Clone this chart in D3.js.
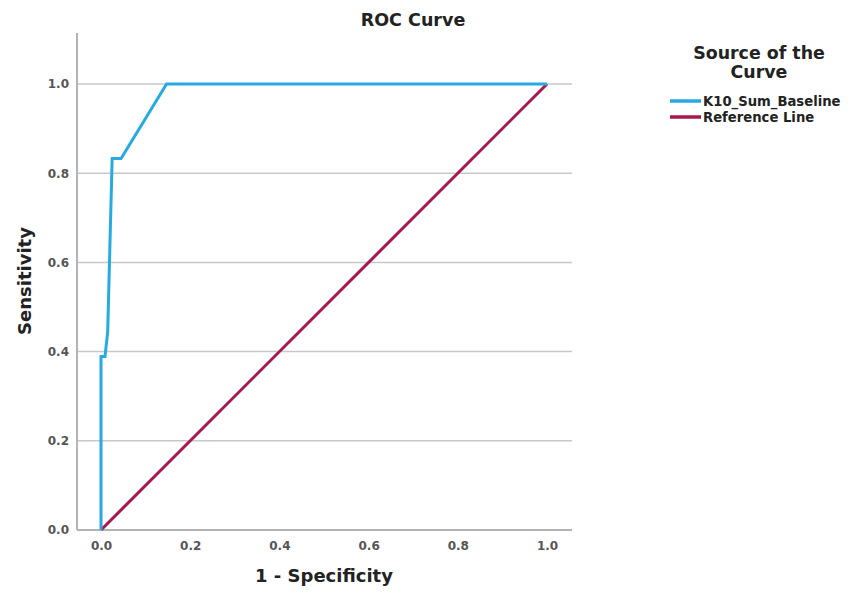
<!DOCTYPE html>
<html><head><meta charset="utf-8">
<script src="https://cdn.jsdelivr.net/npm/d3@7"></script>
<style>body{margin:0;background:#fff}text{font-family:"DejaVu Sans",sans-serif}</style>
</head><body>
<script>
const fpr = [0, 0, 0.009, 0.015, 0.025, 0.045, 0.147, 1];
const tpr = [0, 0.389, 0.389, 0.444, 0.833, 0.833, 1, 1];
const refX = [0, 1];
const refY = [0, 1];
const tickValues = [0, 0.2, 0.4, 0.6, 0.8, 1.0];
const seriesNames = ["K10_Sum_Baseline", "Reference Line"];
const colors = ["#27aae2", "#a8174f"];

const W = 853, H = 593;
const svg = d3.select("body").append("svg").attr("width", W).attr("height", H);
const x = d3.scaleLinear().domain([0, 1]).range([101, 547]);
const y = d3.scaleLinear().domain([0, 1]).range([530, 84]);
const x0 = 77, x1 = 572, yTop = 33;

// gridlines
svg.append("g").selectAll("line").data(tickValues.filter(d => d > 0)).join("line")
  .attr("x1", x0).attr("x2", x1).attr("y1", d => y(d)).attr("y2", d => y(d))
  .attr("stroke", "#c8c8c8").attr("stroke-width", 1.5);

// axes
const yAxis = d3.axisLeft(y).tickValues(tickValues).tickFormat(d3.format(".1f")).tickSize(0).tickPadding(8);
const gy = svg.append("g").attr("transform", `translate(${x0},0)`).call(yAxis);
const xAxis = d3.axisBottom(x).tickValues(tickValues).tickFormat(d3.format(".1f")).tickSize(0).tickPadding(11);
const gx = svg.append("g").attr("transform", `translate(0,530)`).call(xAxis);
[gx, gy].forEach(g => {
  g.select(".domain").remove();
  g.selectAll("text").attr("font-size", 12).attr("font-weight", "bold").attr("fill", "#555")
    .style("font-family", '"DejaVu Sans",sans-serif');
});
svg.append("line").attr("x1", x0).attr("x2", x0).attr("y1", yTop).attr("y2", 530).attr("stroke", "#b4b4b4").attr("stroke-width", 2);
svg.append("line").attr("x1", x0).attr("x2", x1).attr("y1", 530).attr("y2", 530).attr("stroke", "#b4b4b4").attr("stroke-width", 2);

// lines
const line = d3.line().x(d => x(d[0])).y(d => y(d[1]));
svg.append("path").datum(d3.zip(refX, refY)).attr("d", line)
  .attr("fill", "none").attr("stroke", colors[1]).attr("stroke-width", 3);
svg.append("path").datum(d3.zip(fpr, tpr)).attr("d", line)
  .attr("fill", "none").attr("stroke", colors[0]).attr("stroke-width", 3);

// titles
svg.append("text").attr("x", 413).attr("y", 26).attr("text-anchor", "middle")
  .attr("font-size", 17.5).attr("font-weight", "bold").attr("fill", "#222").text("ROC Curve");
svg.append("text").attr("x", 324).attr("y", 582).attr("text-anchor", "middle")
  .attr("font-size", 18).attr("font-weight", "bold").attr("fill", "#222").text("1 - Specificity");
svg.append("text").attr("transform", "translate(31,281) rotate(-90)").attr("text-anchor", "middle")
  .attr("font-size", 18).attr("font-weight", "bold").attr("fill", "#222").text("Sensitivity");

// legend
const lg = svg.append("g");
lg.append("text").attr("x", 759).attr("y", 59).attr("text-anchor", "middle")
  .attr("font-size", 17.4).attr("font-weight", "bold").attr("fill", "#222").text("Source of the");
lg.append("text").attr("x", 759).attr("y", 78).attr("text-anchor", "middle")
  .attr("font-size", 17.4).attr("font-weight", "bold").attr("fill", "#222").text("Curve");
seriesNames.forEach((n, i) => {
  const yy = 101 + i * 16;
  lg.append("line").attr("x1", 670).attr("x2", 701).attr("y1", yy).attr("y2", yy)
    .attr("stroke", colors[i]).attr("stroke-width", 3.5);
  lg.append("text").attr("x", 703).attr("y", yy + 4.8).attr("font-size", 13.2)
    .attr("font-weight", "bold").attr("fill", "#222").text(n);
});
</script>
</body></html>
